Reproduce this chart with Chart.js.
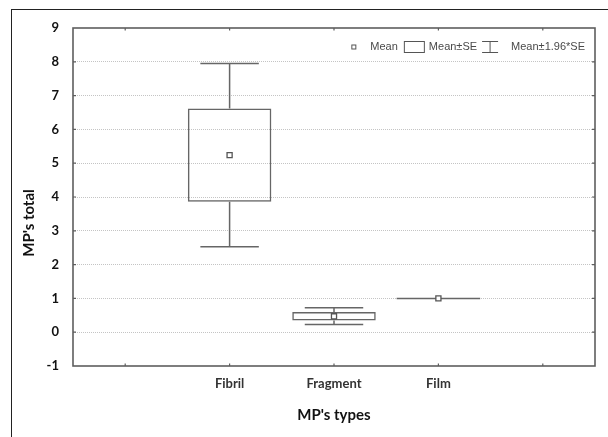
<!DOCTYPE html>
<html><head><meta charset="utf-8">
<script src="https://cdn.jsdelivr.net/npm/chart.js@4.4.0/dist/chart.umd.min.js"></script>
<style>
html,body{margin:0;padding:0;background:#fff;overflow:hidden;width:608px;height:437px;}
#wrap{position:relative;width:608px;height:437px;}
#frame{position:absolute;left:11px;top:9px;width:700px;height:500px;border-left:1px solid #222;border-top:1px solid #222;pointer-events:none;}
canvas{position:absolute;left:0;top:0;}
</style></head><body>
<div id="wrap"><canvas id="c" width="608" height="437"></canvas><div id="frame"></div></div>
<script>
// ---- data ----
const categories = ['Fibril', 'Fragment', 'Film'];
const means  = [5.24, 0.47, 1.00];
const seLow  = [3.86, 0.345, 1.00];
const seHigh = [6.62, 0.60, 1.00];
const ciLow  = [2.53, 0.225, 1.00];
const ciHigh = [7.95, 0.72, 1.00];
const yMin = -1, yMax = 9, yStep = 1;
const legendLabels = ['Mean', 'Mean±SE', 'Mean±1.96*SE'];
const xTitle = "MP's types";
const yTitle = "MP's total";

// axis has an empty slot on each side of the categories
const xLabels = ['', ...categories, ''];
const pad = a => [null, ...a, null];
const meansP = pad(means), seLowP = pad(seLow), seHighP = pad(seHigh), ciLowP = pad(ciLow), ciHighP = pad(ciHigh);
const boxData = seLowP.map((v, i) => v == null ? null : [v, seHighP[i]]);

const LINE = '#666666';
const FRAME = '#5e5e5e';

const whiskerPlugin = {
  id: 'whiskers',
  afterDatasetDraw(chart, args) {
    if (args.index !== 0) return;
    const ctx = chart.ctx, y = chart.scales.y;
    const meta = chart.getDatasetMeta(0);
    ctx.save();
    ctx.strokeStyle = LINE; ctx.lineWidth = 1.5;
    meta.data.forEach((bar, i) => {
      if (ciLowP[i] == null) return;
      const x = bar.x, half = bar.width * 0.35;
      const yLo = y.getPixelForValue(ciLowP[i]), yHi = y.getPixelForValue(ciHighP[i]);
      const yB0 = y.getPixelForValue(seLowP[i]), yB1 = y.getPixelForValue(seHighP[i]);
      ctx.beginPath();
      if (Math.abs(yB0 - yB1) < 1) {
        // collapsed box: a single line across the box width
        ctx.moveTo(x - bar.width / 2, yB0); ctx.lineTo(x + bar.width / 2, yB0);
      }
      if (Math.abs(yHi - yB1) >= 1) {
        ctx.moveTo(x, yHi); ctx.lineTo(x, yB1);
        ctx.moveTo(x - half, yHi); ctx.lineTo(x + half, yHi);
      }
      if (Math.abs(yLo - yB0) >= 1) {
        ctx.moveTo(x, yB0); ctx.lineTo(x, yLo);
        ctx.moveTo(x - half, yLo); ctx.lineTo(x + half, yLo);
      }
      ctx.stroke();
    });
    ctx.restore();
  }
};

const framePlugin = {
  id: 'frame',
  afterDraw(chart) {
    const ctx = chart.ctx, a = chart.chartArea, xs = chart.scales.x, ys = chart.scales.y;
    ctx.save();
    ctx.strokeStyle = FRAME; ctx.lineWidth = 1.6;
    ctx.strokeRect(a.left, a.top, a.right - a.left, a.bottom - a.top);
    ctx.lineWidth = 1.2;
    ctx.beginPath();
    xs.ticks.forEach((t, i) => {
      const px = xs.getPixelForTick(i);
      ctx.moveTo(px, a.bottom); ctx.lineTo(px, a.bottom - 2.5);
      ctx.moveTo(px, a.top); ctx.lineTo(px, a.top + 2.5);
    });
    ys.ticks.forEach(t => {
      if (t.value === yMin || t.value === yMax) return;
      const py = ys.getPixelForValue(t.value);
      ctx.moveTo(a.left, py); ctx.lineTo(a.left + 3, py);
      ctx.moveTo(a.right, py); ctx.lineTo(a.right - 3, py);
    });
    ctx.stroke();

    // y axis title
    ctx.save();
    ctx.translate(29, (a.top + a.bottom) / 2 + 26);
    ctx.rotate(-Math.PI / 2);
    ctx.font = 'bold 15px Lato';
    ctx.fillStyle = '#111';
    ctx.textAlign = 'center'; ctx.textBaseline = 'middle';
    ctx.fillText(yTitle, 0, 0);
    ctx.restore();

    // legend (top right inside plot)
    ctx.font = '11px "Liberation Sans"';
    ctx.textBaseline = 'middle'; ctx.textAlign = 'left';
    ctx.fillStyle = '#4a4a4a';
    const cy = a.top + 19;
    let x = a.right - 10;
    const w3 = ctx.measureText(legendLabels[2]).width;
    x -= w3; ctx.fillText(legendLabels[2], x, cy);
    x -= 13;
    // I-beam symbol
    ctx.strokeStyle = '#555'; ctx.lineWidth = 1;
    ctx.beginPath();
    ctx.moveTo(x - 16, cy - 5.5); ctx.lineTo(x, cy - 5.5);
    ctx.moveTo(x - 16, cy + 5.5); ctx.lineTo(x, cy + 5.5);
    ctx.moveTo(x - 8, cy - 5.5); ctx.lineTo(x - 8, cy + 5.5);
    ctx.stroke();
    x -= 16 + 5;
    const w2 = ctx.measureText(legendLabels[1]).width;
    x -= w2; ctx.fillText(legendLabels[1], x, cy);
    x -= 4;
    ctx.strokeRect(x - 20.5, cy - 5.5, 20, 11);
    x -= 21 + 6;
    const w1 = ctx.measureText(legendLabels[0]).width;
    x -= w1; ctx.fillText(legendLabels[0], x, cy);
    x -= 14;
    ctx.fillStyle = '#fff';
    ctx.fillRect(x - 5, cy - 2.5, 5, 5);
    ctx.strokeRect(x - 4.5, cy - 2, 4, 4);
    ctx.restore();
  }
};

new Chart(document.getElementById('c'), {
  data: {
    labels: xLabels,
    datasets: [
      {
        type: 'bar',
        label: legendLabels[1],
        data: boxData,
        backgroundColor: 'rgba(255,255,255,0)',
        borderColor: LINE,
        borderWidth: 1.5,
        borderSkipped: false,
        categoryPercentage: 1,
        barPercentage: 0.8,
        grouped: false,
        order: 2
      },
      {
        type: 'line',
        label: legendLabels[0],
        data: meansP,
        showLine: false,
        pointStyle: 'rect',
        pointRadius: 3.6,
        pointBackgroundColor: '#fff',
        pointBorderColor: '#555',
        pointBorderWidth: 1.3,
        order: 1
      }
    ]
  },
  options: {
    responsive: false,
    devicePixelRatio: 1,
    animation: false,
    layout: { padding: { left: 0, top: 28, right: 13, bottom: 0 } },
    plugins: { legend: { display: false }, tooltip: { enabled: false } },
    scales: {
      x: {
        type: 'category',
        offset: true,
        grid: { display: false, drawTicks: false },
        border: { display: false },
        ticks: { padding: 10, color: '#333', font: { family: 'Lato', weight: 'bold', size: 13 }, autoSkip: false, maxRotation: 0 },
        title: { display: true, text: xTitle, color: '#111', font: { family: 'Lato', weight: 'bold', size: 15 }, padding: { top: 0, bottom: 13 } },
        afterFit(s) { s.height = 71; }
      },
      y: {
        type: 'linear',
        min: yMin, max: yMax,
        grid: {
          drawTicks: false,
          lineWidth: 1,
          color: c => (c.tick.value === yMin || c.tick.value === yMax) ? 'rgba(0,0,0,0)' : '#c4c4c4'
        },
        border: { display: false, dash: [1, 1] },
        ticks: { stepSize: yStep, padding: 14, color: '#111', font: { family: 'Lato', weight: 'bold', size: 13 } },
        afterFit(s) { s.width = 73; }
      }
    }
  },
  plugins: [whiskerPlugin, framePlugin]
});
</script>
</body></html>
